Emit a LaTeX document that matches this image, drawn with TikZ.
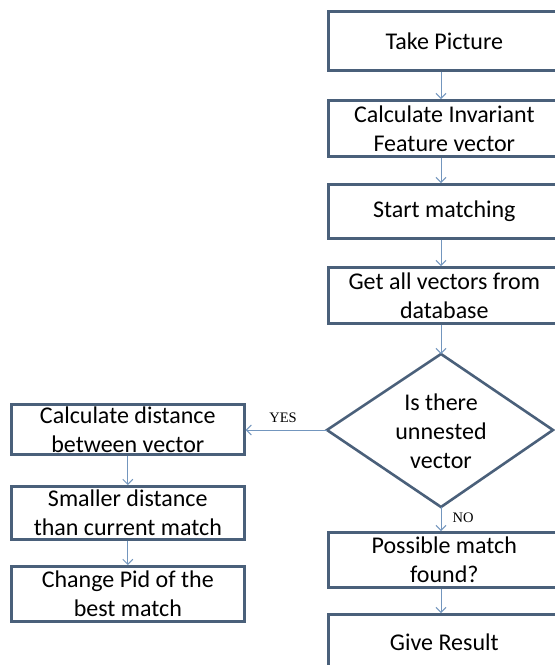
\documentclass[tikz,border=0pt]{standalone}
\usepackage{fontspec}
\setmainfont{Carlito}
\newfontfamily\serifl{Liberation Serif}
\usetikzlibrary{arrows.meta}
\definecolor{bord}{RGB}{74,96,122}
\definecolor{conn}{RGB}{115,150,190}
\begin{document}
\begin{tikzpicture}[x=1pt,y=-1pt,
  box/.style={draw=bord,line width=2.6pt,inner sep=0pt,align=center,font=\fontsize{24}{29}\selectfont},
  dtxt/.style={inner sep=0pt,align=center,font=\fontsize{24}{29}\selectfont},
  arr/.style={draw=conn,line width=1pt,-{Straight Barb[length=5pt,width=10pt]}},
  lbl/.style={inner sep=0pt,font=\serifl\fontsize{14.5}{16}\selectfont}]
\useasboundingbox (0,0) rectangle (555,665);
\clip (0,0) rectangle (555,665);
\fill[white] (0,0) rectangle (555,665);
% right column
\node[box,anchor=north west,minimum width=232pt,minimum height=59pt] (b1) at (327,10) {Take Picture};
\node[box,anchor=north west,minimum width=232pt,minimum height=56pt] (b2) at (327,99) {Calculate Invariant\\Feature vector};
\node[box,anchor=north west,minimum width=232pt,minimum height=54pt] (b3) at (327,183) {Start matching};
\node[box,anchor=north west,minimum width=232pt,minimum height=56pt] (b4) at (327,266) {Get all vectors from\\database};
\coordinate (dT) at (441,354);
\coordinate (dR) at (553,430);
\coordinate (dB) at (441,507);
\coordinate (dL) at (327,430);
\draw[bord,line width=2.6pt,line join=miter] (dT) -- (dR) -- (dB) -- (dL) -- cycle;
\node[dtxt] (dtext) at (441,431) {Is there\\unnested\\vector};
\node[box,anchor=north west,minimum width=232pt,minimum height=55pt] (b5) at (327,531) {Possible match\\found?};
\node[box,anchor=north west,minimum width=232pt,minimum height=56pt] (b6) at (327,613) {Give Result};
% left column
\node[box,anchor=north west,minimum width=233pt,minimum height=50pt] (l1) at (10,403) {Calculate distance\\between vector};
\node[box,anchor=north west,minimum width=233pt,minimum height=53pt] (l2) at (10,485) {Smaller distance\\than current match};
\node[box,anchor=north west,minimum width=233pt,minimum height=55pt] (l3) at (10,565) {Change Pid of the\\best match};
% connectors
\draw[arr] (b1.south -| dT) -- (b2.north -| dT);
\draw[arr] (b2.south -| dT) -- (b3.north -| dT);
\draw[arr] (b3.south -| dT) -- (b4.north -| dT);
\draw[arr] (b4.south -| dT) -- (dT);
\draw[arr] (dB) -- (b5.north -| dT);
\draw[arr] (b5.south -| dT) -- (b6.north -| dT);
\draw[arr] (dL) -- (dL -| l1.east);
\draw[arr] (l1) -- (l2);
\draw[arr] (l2) -- (l3);
\node[lbl] (yes) at (283,418) {YES};
\node[lbl] (no) at (463,518) {NO};
\end{tikzpicture}
\end{document}
